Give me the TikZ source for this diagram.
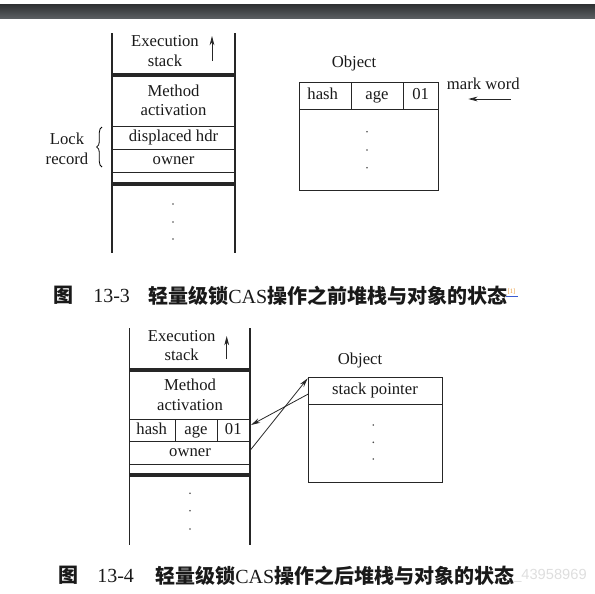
\documentclass[tikz,border=0pt]{standalone}
\usepackage{fontspec}
\setmainfont{Liberation Serif}
\newfontfamily\cjk{Noto Sans CJK SC}
\newfontfamily\wmfont{Liberation Sans}
\definecolor{BarTop}{HTML}{2E3032}
\definecolor{BarBottom}{HTML}{5A5E61}
\definecolor{RefOrange}{HTML}{E89A3C}
\definecolor{RefBlue}{HTML}{3A5BD0}
\usetikzlibrary{positioning,arrows.meta,decorations.pathreplacing}

\begin{document}
\begin{tikzpicture}[x=0.75pt,y=-0.75pt,
    every node/.style={font=\fontsize{12.5}{14.6}\selectfont, inner sep=0pt, text=black!90},
    field/.style={text height=8.6pt, text depth=2.6pt},
    wall/.style={line width=0.9pt, black!85},
    rule/.style={line width=0.7pt, black!85},
    heavyrule/.style={line width=2.3pt, black!85},
    ptr/.style={line width=0.6pt, black!85, -{Stealth[length=7pt,width=3.6pt]}},
    caption/.style={font=\fontsize{15}{18}\selectfont, anchor=west}]
    \useasboundingbox (0,0) rectangle (595,593);
    \shade[top color=BarTop, bottom color=BarBottom] (0,4) rectangle (595,18);

    % figure 13-3: stack before CAS
    \draw[wall] (112,33) -- (112,253) (235,33) -- (235,253);
    \draw[heavyrule] (112,75) -- (235,75) (112,184) -- (235,184);
    \draw[rule] (112,126) -- (235,126) (112,149) -- (235,149) (112,172) -- (235,172);
    \node[align=center] (exec1) at (165,51) {Execution\\stack};
    \coordinate (up1a) at (212,61);
    \coordinate (up1b) at (212,36);
    \draw[ptr] (up1a) -- (up1b);
    \node[align=center] (meth1) at (173.5,100.5) {Method\\activation};
    \node[field] (hdr1) at (173.5,137.5) {displaced hdr};
    \node[field] (own1) at (173.5,160.7) {owner};
    \foreach \y in {204,222,239} \fill[black!70] (173,\y) circle (0.9);
    \node[align=center] (lock1) at (67,149) {Lock\\record};
    \draw[line width=0.6pt, decorate, decoration={brace, amplitude=4pt}] (102,167) -- (102,127);

    % object before CAS
    \draw[rule] (299.3,82.3) rectangle (438.3,190);
    \draw[rule] (299.3,109.3) -- (438.3,109.3) (351.7,82.3) -- (351.7,109.3) (403.3,82.3) -- (403.3,109.3);
    \node (obj1) at (354,63.5) {Object};
    \node[field] (hash1) at (322.7,95.8) {hash};
    \node[field] (age1) at (377,95.8) {age};
    \node[field] (bits1) at (420.7,95.8) {01};
    \foreach \y in {131.7,150,167.7} \fill[black!70] (367,\y) circle (0.9);
    \node (mark1) at (483.3,83.5) {mark word};
    \coordinate (mw1a) at (510.7,99);
    \coordinate (mw1b) at (468.3,99);
    \draw[ptr] (mw1a) -- (mw1b);

    \node[caption] (fig1a) at (53,295.5) {\cjk\bfseries 图};
    \node[caption] (fig1b) at (93,295.5) {13-3};
    \node[caption] (fig1c) at (148,295.5) {{\cjk\bfseries 轻量级锁}CAS{\cjk\bfseries 操作之前堆栈与对象的状态}};
    \node[font=\fontsize{5}{6}\selectfont, text=RefOrange] (note1) at (511.5,291.5) {[1]};
    \draw[RefBlue, line width=0.6pt] (506,296.5) -- (518,296.5);

    % figure 13-4: stack after CAS
    \draw[wall] (129.3,328) -- (129.3,545) (250,328) -- (250,545);
    \draw[heavyrule] (129.3,370) -- (250,370) (129.3,475) -- (250,475);
    \draw[rule] (129.3,419) -- (250,419) (129.3,441.7) -- (250,441.7) (129.3,464) -- (250,464);
    \draw[rule] (175,419) -- (175,441.7) (217.7,419) -- (217.7,441.7);
    \node[align=center] (exec2) at (181.7,345.5) {Execution\\stack};
    \coordinate (up2a) at (226.7,359);
    \coordinate (up2b) at (226.7,336);
    \draw[ptr] (up2a) -- (up2b);
    \node[align=center] (meth2) at (190,395) {Method\\activation};
    \node[field] (hash2) at (151.7,430.3) {hash};
    \node[field] (age2) at (196,430.3) {age};
    \node[field] (bits2) at (233.3,430.3) {01};
    \node[field] (own2) at (190,452.8) {owner};
    \foreach \y in {493.3,510.7,529} \fill[black!70] (190,\y) circle (0.9);

    % object after CAS
    \draw[rule] (308.3,377.7) rectangle (442.3,482.3);
    \draw[rule] (308.3,404) -- (442.3,404);
    \node (obj2) at (360,360.5) {Object};
    \node[field] (sp2) at (375,390.8) {stack pointer};
    \foreach \y in {425,442.3,459} \fill[black!70] (373.3,\y) circle (0.9);
    \coordinate (spout) at (308.3,394);
    \coordinate (hdrin) at (251,425);
    \coordinate (ownout) at (251,449.3);
    \coordinate (objin) at (307.7,378.3);
    \draw[ptr] (spout) -- (hdrin);
    \draw[ptr] (ownout) -- (objin);

    \node[caption] (fig2a) at (58,575.7) {\cjk\bfseries 图};
    \node[caption] (fig2b) at (97,575.7) {13-4};
    \node[caption] (fig2c) at (155,575.7) {{\cjk\bfseries 轻量级锁}CAS{\cjk\bfseries 操作之后堆栈与对象的状态}};
    \node[font=\wmfont\fontsize{11}{13}\selectfont, text=black!13, anchor=west] (wm) at (513,576) {\_43958969};
\end{tikzpicture}
\end{document}
